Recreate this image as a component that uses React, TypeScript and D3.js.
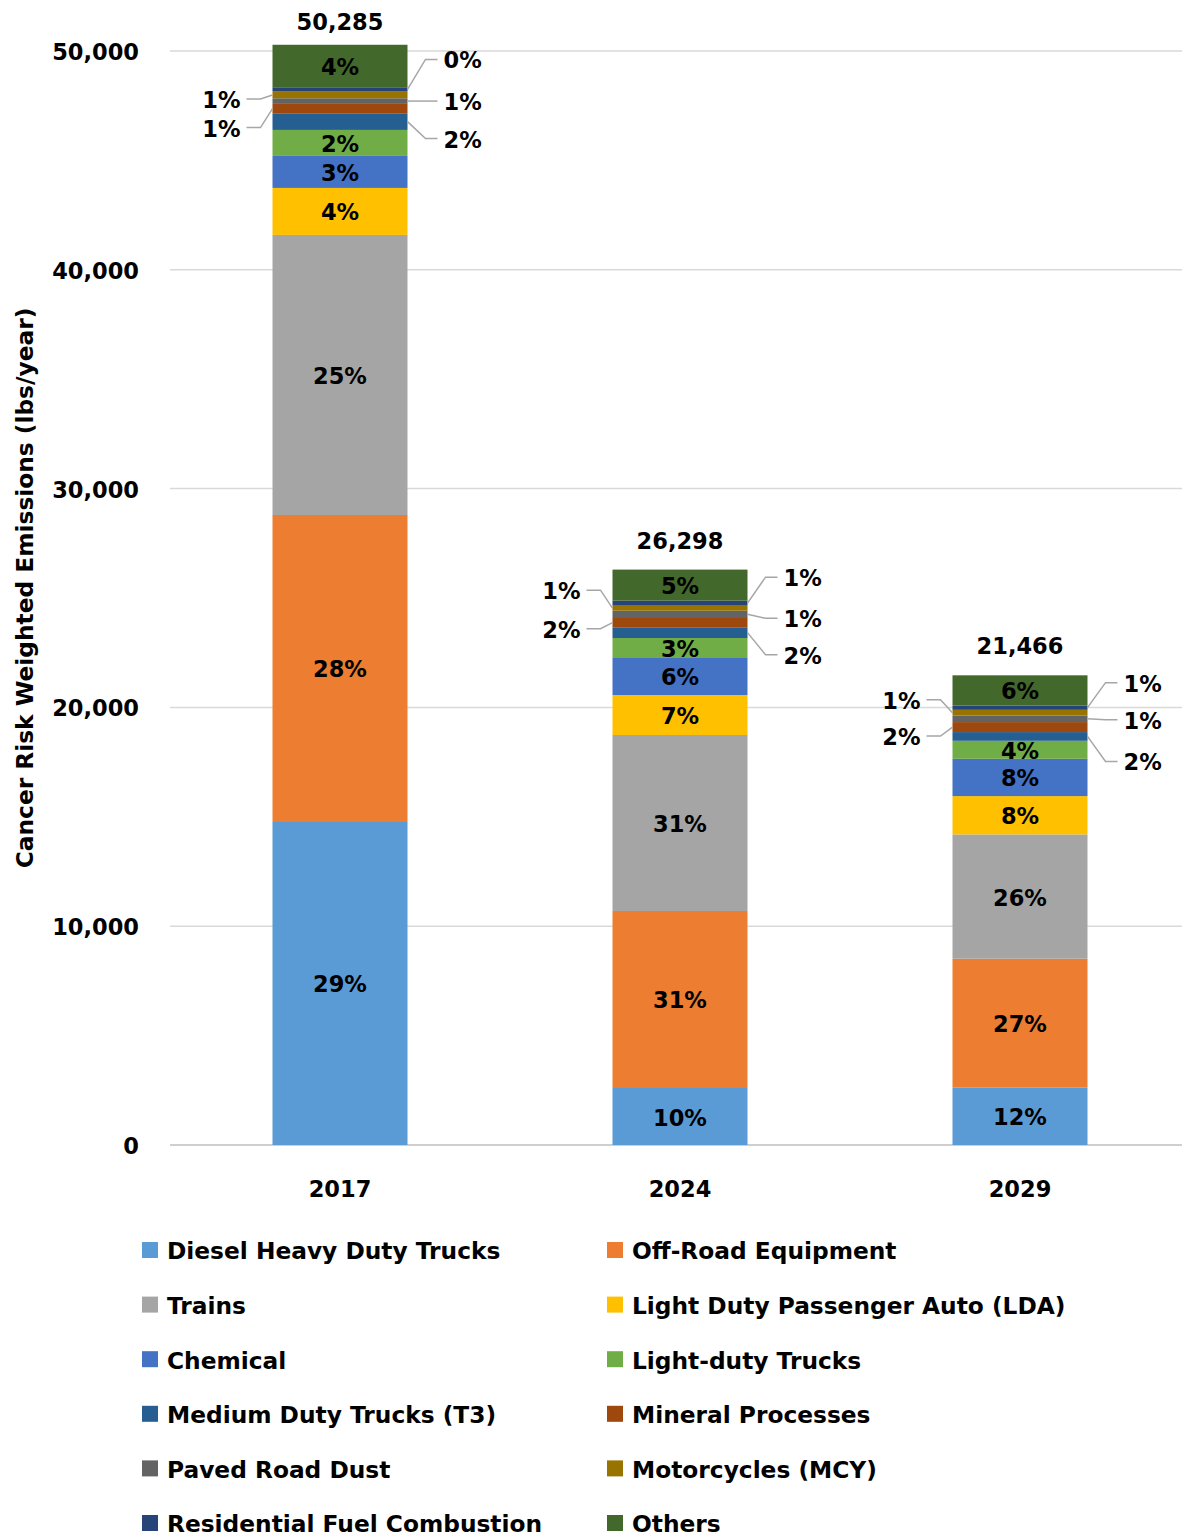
import React from "react";
import * as d3 from "d3";

const years = ["2017", "2024", "2029"];
const totals = [50285, 26298, 21466];
const categories = [
  "Diesel Heavy Duty Trucks",
  "Off-Road Equipment",
  "Trains",
  "Light Duty Passenger Auto (LDA)",
  "Chemical",
  "Light-duty Trucks",
  "Medium Duty Trucks (T3)",
  "Mineral Processes",
  "Paved Road Dust",
  "Motorcycles (MCY)",
  "Residential Fuel Combustion",
  "Others",
];
// values per category, for 2017, 2024, 2029
const dieselHeavyDutyTrucks = [14763, 2605, 2619];
const offRoadEquipment = [14031, 8090, 5895];
const trains = [12800, 8044, 5680];
const lightDutyPassengerAuto = [2148, 1828, 1752];
const chemical = [1463, 1691, 1705];
const lightDutyTrucks = [1188, 914, 823];
const mediumDutyTrucks = [760, 489, 398];
const mineralProcesses = [430, 425, 457];
const pavedRoadDust = [256, 334, 300];
const motorcycles = [306, 229, 260];
const residentialFuel = [197, 229, 197];
const others = [1943, 1420, 1380];
const seriesValues = [
  dieselHeavyDutyTrucks,
  offRoadEquipment,
  trains,
  lightDutyPassengerAuto,
  chemical,
  lightDutyTrucks,
  mediumDutyTrucks,
  mineralProcesses,
  pavedRoadDust,
  motorcycles,
  residentialFuel,
  others,
];
const yTicks = [0, 10000, 20000, 30000, 40000, 50000];

const colors = [
  "#5b9bd5",
  "#ed7d31",
  "#a5a5a5",
  "#ffc000",
  "#4472c4",
  "#70ad47",
  "#255e91",
  "#9e480e",
  "#636363",
  "#997300",
  "#264478",
  "#43682b",
];

// outside label layout: category index -> side, and vertical offset per year
const outside: Record<number, { side: "left" | "right"; dy: number[] }> = {
  6: { side: "right", dy: [17, 22, 25] },
  7: { side: "left", dy: [19, 6, 9] },
  8: { side: "right", dy: [0, 4, 1] },
  9: { side: "left", dy: [4, -18, -13] },
  10: { side: "right", dy: [-30, -26, -25] },
};

const FONT = "'DejaVu Sans', sans-serif";
const FS = 22.5;
const FS_TEXT = 23.3;

export default function App() {
  const width = 1182;
  const height = 1536;
  const x = d3.scalePoint<string>().domain(years).range([170, 1190]).padding(0.5);
  const y = d3.scaleLinear().domain([0, 50000]).range([1145, 51]);
  const barW = 135;

  const rows = years.map((yr, i) => {
    const r: any = { year: yr };
    categories.forEach((c, k) => (r[c] = seriesValues[k][i]));
    return r;
  });
  const stacked = d3.stack<any>().keys(categories)(rows);
  const fmt = d3.format(",");
  const DY = "0.4em";

  return (
    <svg
      width={width}
      height={height}
      style={{ position: "absolute", left: 0, top: 0, background: "#fff" }}
      fontFamily={FONT}
      fontWeight="bold"
    >
      {/* gridlines */}
      {yTicks.map((t) => (
        <line
          key={t}
          x1={170}
          x2={1182}
          y1={y(t)}
          y2={y(t)}
          stroke={t === 0 ? "#bfbfbf" : "#d9d9d9"}
          strokeWidth={1.5}
        />
      ))}
      {yTicks.map((t) => (
        <text key={"l" + t} x={139} y={y(t)} dy={DY} textAnchor="end" fontSize={FS} fill="#000">
          {fmt(t)}
        </text>
      ))}
      <text
        transform={`translate(33,588) rotate(-90)`}
        textAnchor="middle"
        fontSize={FS_TEXT}
        fill="#000"
      >
        Cancer Risk Weighted Emissions (lbs/year)
      </text>

      {/* bars */}
      {stacked.map((s, k) => (
        <g key={categories[k]} fill={colors[k]}>
          {s.map((d, i) => (
            <rect
              key={i}
              x={(x(years[i]) as number) - barW / 2}
              y={y(d[1])}
              width={barW}
              height={y(d[0]) - y(d[1])}
            />
          ))}
        </g>
      ))}

      {/* percent labels */}
      {stacked.map((s, k) =>
        s.map((d, i) => {
          const cx = x(years[i]) as number;
          const mid = (y(d[0]) + y(d[1])) / 2;
          const pct = Math.round(((d[1] - d[0]) / totals[i]) * 100) + "%";
          const o = outside[k];
          if (!o) {
            return (
              <text key={k + "-" + i} x={cx} y={mid} dy={DY} textAnchor="middle" fontSize={FS} fill="#000">
                {pct}
              </text>
            );
          }
          const ly = mid + o.dy[i];
          if (o.side === "right") {
            const bx = cx + barW / 2;
            return (
              <g key={k + "-" + i}>
                <polyline
                  points={`${bx},${mid} ${bx + 18},${ly} ${bx + 30},${ly}`}
                  fill="none"
                  stroke="#a6a6a6"
                  strokeWidth={1.5}
                />
                <text x={bx + 36} y={ly} dy={DY} fontSize={FS} fill="#000">
                  {pct}
                </text>
              </g>
            );
          }
          const bx = cx - barW / 2;
          return (
            <g key={k + "-" + i}>
              <polyline
                points={`${bx},${mid} ${bx - 12},${ly} ${bx - 26},${ly}`}
                fill="none"
                stroke="#a6a6a6"
                strokeWidth={1.5}
              />
              <text x={bx - 32} y={ly} dy={DY} textAnchor="end" fontSize={FS} fill="#000">
                {pct}
              </text>
            </g>
          );
        })
      )}

      {/* totals */}
      {years.map((yr, i) => (
        <text
          key={"t" + yr}
          x={x(yr) as number}
          y={Math.max(y(totals[i]) - 30, 21)}
          dy={DY}
          textAnchor="middle"
          fontSize={FS}
          fill="#000"
        >
          {fmt(totals[i])}
        </text>
      ))}

      {/* x labels */}
      {years.map((yr) => (
        <text key={"x" + yr} x={x(yr) as number} y={1188} dy={DY} textAnchor="middle" fontSize={FS} fill="#000">
          {yr}
        </text>
      ))}

      {/* legend */}
      {categories.map((c, k) => {
        const col = k % 2;
        const row = Math.floor(k / 2);
        const lx = col === 0 ? 142 : 607;
        const ly = 1250 + row * 54.6;
        return (
          <g key={"lg" + c}>
            <rect x={lx} y={ly - 8} width={16} height={16} fill={colors[k]} />
            <text x={lx + 25} y={ly} dy={DY} fontSize={FS_TEXT} fill="#000">
              {c}
            </text>
          </g>
        );
      })}
    </svg>
  );
}
